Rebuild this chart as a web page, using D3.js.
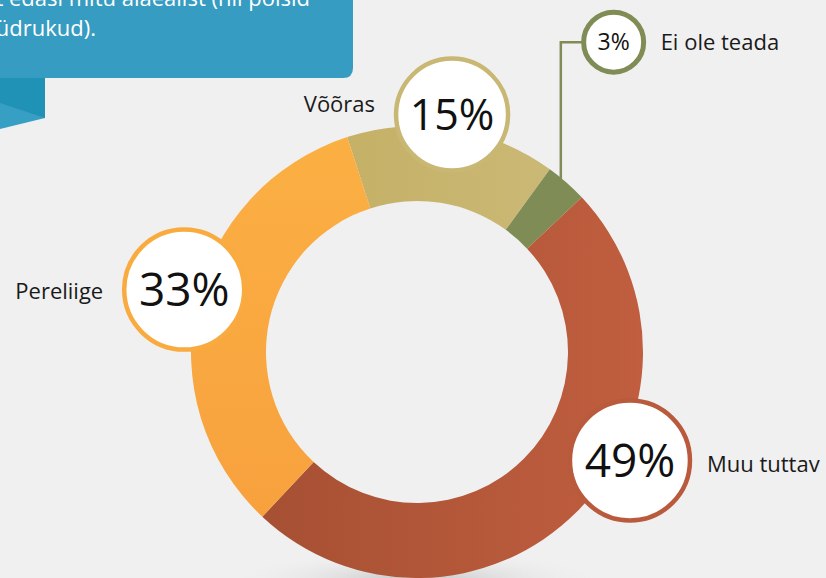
<!DOCTYPE html>
<html>
<head>
<meta charset="utf-8">
<script src="https://cdn.jsdelivr.net/npm/d3@7"></script>
<style>
body { margin: 0; background: #f0f0f0; }
svg { display: block; }
</style>
</head>
<body>
<div id="chart"></div>
<script>
// data
var categories = ["Võõras", "Ei ole teada", "Muu tuttav", "Pereliige"];
var values = [15, 3, 49, 33];
var percentLabels = ["15%", "3%", "49%", "33%"];
var calloutLines = ["seksuaalselt edasi mitu alaealist (nii poisid", "kui ka tüdrukud)."];

var width = 826, height = 578;
var cx = 417, cy = 352;
var outerR = 226, innerR = 151;

var sliceColors = [["#c0aa5b", "#cdbc7c"], ["#7f8c55", "#7f8c55"], ["#a24d31", "#c05e3f"], ["#fbb043", "#f79f3d"]];
var ringColors = ["#c9b774", "#7f8c55", "#b95a3c", "#f9ab3f"];

// bubble layout: angle (deg), distance from centre, bubble radius, font size, label side
var bubbles = [
	{ angle: 8.4, dist: 240, r: 56, size: 43, side: "left", dy: -10 },
	{ angle: 32.4, dist: 367, r: 30, size: 23, side: "right", dy: 0 },
	{ angle: 117, dist: 239, r: 60, size: 46, side: "right", dy: 4 },
	{ angle: 285, dist: 241, r: 60, size: 46, side: "left", dy: 2 }
];

var svg = d3.select("#chart")
	.append("svg")
	.attr("width", width)
	.attr("height", height);

var defs = svg.append("defs");

// shadow under the ring
var shadow = defs.append("radialGradient").attr("id", "shadow");
shadow.append("stop").attr("offset", "0%").attr("stop-color", "#bdbdbd").attr("stop-opacity", 0.9);
shadow.append("stop").attr("offset", "100%").attr("stop-color", "#f0f0f0").attr("stop-opacity", 0);

svg.append("ellipse")
	.attr("cx", cx)
	.attr("cy", 580)
	.attr("rx", 190)
	.attr("ry", 30)
	.attr("fill", "url(#shadow)");

//gradients in the ring's own coords (centre at 0,0)
sliceColors.forEach(function(c, i){
	var vertical = (i == 3);
	var g = defs.append("linearGradient")
		.attr("id", "grad" + i)
		.attr("gradientUnits", "userSpaceOnUse")
		.attr("x1", vertical ? 0 : -outerR).attr("y1", vertical ? -outerR : 0)
		.attr("x2", vertical ? 0 : outerR).attr("y2", vertical ? outerR : 0);
	g.append("stop").attr("offset", "0%").attr("stop-color", c[0]);
	g.append("stop").attr("offset", "100%").attr("stop-color", c[1]);
});

// callout box top left
svg.append("path")
	.attr("d", "M0,78 L45,78 L45,118 L0,118 Z")
	.attr("fill", "#1f92b6");
svg.append("path")
	.attr("d", "M0,103 L45,118 L0,129 Z")
	.attr("fill", "#379fc3");
svg.append("path")
	.attr("d", "M-10,-10 L353,-10 L353,68 Q353,78 343,78 L-10,78 Z")
	.attr("fill", "#379cc1");

svg.selectAll(".callout")
	.data(calloutLines)
	.enter()
	.append("text")
	.attr("class", "callout")
	.attr("x", function(d, i){ return i == 0 ? 310 : 96; })
	.attr("y", function(d, i){ return 6 + i * 30; })
	.attr("text-anchor", "end")
	.style("font-family", "'Open Sans', sans-serif")
	.style("font-size", "22px")
	.attr("fill", "#ffffff")
	.text(function(d){ return d; });

// donut
var pie = d3.pie()
	.sort(null)
	.startAngle(-18 * Math.PI / 180)
	.endAngle(342 * Math.PI / 180);

var arc = d3.arc().innerRadius(innerR).outerRadius(outerR);

var arcs = pie(values);

var ring = svg.append("g").attr("transform", "translate(" + cx + "," + cy + ")");

ring.selectAll(".slice")
	.data(arcs)
	.enter()
	.append("path")
	.attr("class", "slice")
	.attr("d", arc)
	.attr("fill", function(d, i){ return "url(#grad" + i + ")"; });

// bubble positions
function bubblePos(b){
	var a = b.angle * Math.PI / 180;
	return [cx + b.dist * Math.sin(a), cy - b.dist * Math.cos(a)];
}

// connector for the small slice
var small = arcs[1];
var mid = (small.startAngle + small.endAngle) / 2;
var lineX = cx + (outerR - 4) * Math.sin(mid) - 3;
var lineY = cy - Math.sqrt(outerR * outerR - (lineX - cx) * (lineX - cx)) + 4;
var p1 = bubblePos(bubbles[1]);
svg.append("path")
	.attr("d", "M" + lineX + "," + lineY + " L" + lineX + "," + p1[1] + " L" + p1[0] + "," + p1[1])
	.attr("fill", "none")
	.attr("stroke", ringColors[1])
	.attr("stroke-width", 2.5);

var bub = svg.selectAll(".bubble")
	.data(bubbles)
	.enter()
	.append("g")
	.attr("class", "bubble")
	.attr("transform", function(d){ return "translate(" + bubblePos(d) + ")"; });

bub.append("circle")
	.attr("r", function(d){ return d.r; })
	.attr("fill", "#ffffff")
	.attr("stroke", function(d, i){ return ringColors[i]; })
	.attr("stroke-width", function(d, i){ return i == 1 ? 5 : 4.5; });

bub.append("text")
	.attr("text-anchor", "middle")
	.attr("dy", "0.35em")
	.style("font-family", "'Open Sans', sans-serif")
	.style("font-size", function(d){ return d.size + "px"; })
	.attr("fill", "#111111")
	.text(function(d, i){ return percentLabels[i]; });

bub.append("text")
	.attr("x", function(d){ return d.side == "left" ? -(d.r + 21) : d.r + 17; })
	.attr("y", function(d){ return d.dy; })
	.attr("dy", "0.35em")
	.attr("text-anchor", function(d){ return d.side == "left" ? "end" : "start"; })
	.style("font-family", "'Open Sans', sans-serif")
	.style("font-size", "22px")
	.attr("fill", "#1a1a1a")
	.text(function(d, i){ return categories[i]; });
</script>
</body>
</html>
